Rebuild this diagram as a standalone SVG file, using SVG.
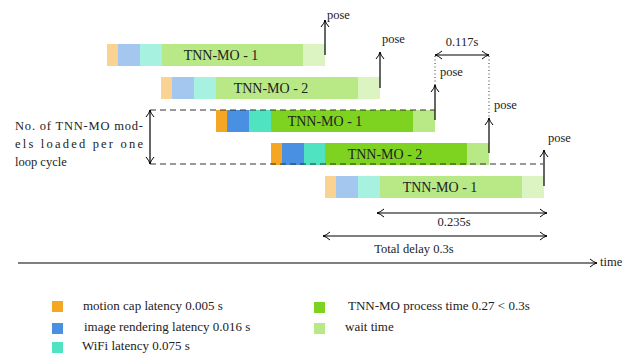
<svg xmlns="http://www.w3.org/2000/svg" width="631" height="353" viewBox="0 0 631 353">
<defs>
<marker id="ah" viewBox="-8 -5 10 10" markerWidth="10" markerHeight="10" refX="0" refY="0" orient="auto-start-reverse" markerUnits="userSpaceOnUse">
<path d="M-7,-4 Q-3,-0.5 0,0 Q-3,0.5 -7,4" fill="none" stroke="#000" stroke-width="1"/>
</marker>
</defs>
<style>
text{font-family:'Liberation Serif','DejaVu Serif',serif;fill:#222;}
.bl{font-size:14px;text-anchor:middle;}
.sm{font-size:12.5px;}
.lg{font-size:13px;}
.o{fill:#F5A623}.b{fill:#4A90E2}.c{fill:#50E3C2}.g{fill:#7ED321}.lgn{fill:#B8E986}.w{fill:#DBF4C2}
.fo{fill:#FAD291}.fb{fill:#A4C7F0}.fc{fill:#A7F1E0}
.ar{stroke:#000;stroke-width:1.2;fill:none;marker-end:url(#ah)}
.da{stroke:#000;stroke-width:1.2;fill:none;marker-start:url(#ah);marker-end:url(#ah)}
.dash{stroke:#333;stroke-width:1;stroke-dasharray:6,4;fill:none}
.dot{stroke:#333;stroke-width:1;stroke-dasharray:1,2.5;fill:none}
</style>
<g id="row1">
<rect class="fo" x="107" y="44" width="11" height="22"/>
<rect class="fb" x="118" y="44" width="22" height="22"/>
<rect class="fc" x="140" y="44" width="22" height="22"/>
<rect class="lgn" x="162" y="44" width="141" height="22"/>
<rect class="w" x="303" y="44" width="22" height="22"/>
<text class="bl" x="221" y="60" font-family="Liberation Serif, serif">TNN-MO - 1</text>
</g>
<g id="row2">
<rect class="fo" x="161" y="77" width="11" height="22"/>
<rect class="fb" x="172" y="77" width="22" height="22"/>
<rect class="fc" x="194" y="77" width="22" height="22"/>
<rect class="lgn" x="216" y="77" width="142" height="22"/>
<rect class="w" x="358" y="77" width="22" height="22"/>
<text class="bl" x="271" y="93">TNN-MO - 2</text>
</g>
<g id="row3">
<rect class="o" x="216" y="110" width="11" height="22"/>
<rect class="b" x="227" y="110" width="22" height="22"/>
<rect class="c" x="249" y="110" width="22" height="22"/>
<rect class="g" x="271" y="110" width="142" height="22"/>
<rect class="lgn" x="413" y="110" width="22" height="22"/>
<text class="bl" x="325" y="126">TNN-MO - 1</text>
</g>
<g id="row4">
<rect class="o" x="271" y="143" width="11" height="22"/>
<rect class="b" x="282" y="143" width="22" height="22"/>
<rect class="c" x="304" y="143" width="21" height="22"/>
<rect class="g" x="325" y="143" width="142" height="22"/>
<rect class="lgn" x="467" y="143" width="22" height="22"/>
<text class="bl" x="385" y="159">TNN-MO - 2</text>
</g>
<g id="row5">
<rect class="fo" x="325" y="176" width="11" height="22"/>
<rect class="fb" x="336" y="176" width="22" height="22"/>
<rect class="fc" x="358" y="176" width="22" height="22"/>
<rect class="lgn" x="380" y="176" width="142" height="22"/>
<rect class="w" x="522" y="176" width="22" height="22"/>
<text class="bl" x="440" y="192">TNN-MO - 1</text>
</g>
<g id="labels">
<text class="sm" x="327" y="19">pose</text>
<text class="sm" x="382" y="43">pose</text>
<text class="sm" x="440" y="76">pose</text>
<text class="sm" x="494" y="109">pose</text>
<text class="sm" x="548" y="142">pose</text>
<text class="sm" x="462" y="46" text-anchor="middle">0.117s</text>
<text class="sm" x="454" y="226" text-anchor="middle">0.235s</text>
<text class="sm" x="414" y="253" text-anchor="middle">Total delay 0.3s</text>
<text class="sm" x="600" y="266">time</text>
<text class="sm" x="15" y="130" textLength="128" lengthAdjust="spacing">No. of TNN-MO mod-</text>
<text class="sm" x="15" y="148" textLength="128" lengthAdjust="spacing">els loaded per one</text>
<text class="sm" x="15" y="166">loop cycle</text>
</g>
<g id="connectors">
<path class="ar" d="M325,55 V20"/>
<path class="ar" d="M380,88 V52"/>
<path class="ar" d="M435,120 V85"/>
<path class="ar" d="M489,153 V118"/>
<path class="ar" d="M544,186 V150"/>
<path class="dash" d="M150,110 H435"/>
<path class="dash" d="M150,164 H543"/>
<path class="dot" d="M435,56 V85"/>
<path class="dot" d="M489,56 V118"/>
<path class="da" d="M435,55 H489"/>
<path class="da" d="M150,110 V164"/>
<path class="da" d="M377,213 H547"/>
<path class="da" d="M323,236 H547"/>
<path class="ar" d="M18,263 H597"/>
</g>
<g id="legend">
<rect class="o" x="52" y="301" width="11" height="11"/>
<text class="lg" x="83" y="310">motion cap latency 0.005 s</text>
<rect class="b" x="52" y="323" width="11" height="11"/>
<text class="lg" x="84" y="331">image rendering latency 0.016 s</text>
<rect class="c" x="52" y="342" width="11" height="11"/>
<text class="lg" x="82" y="350">WiFi latency 0.075 s</text>
<rect class="g" x="314" y="302" width="11" height="11"/>
<text class="lg" x="348" y="310">TNN-MO process time  0.27 &lt; 0.3s</text>
<rect class="lgn" x="314" y="323" width="11" height="11"/>
<text class="lg" x="345" y="331">wait time</text>
</g>
</svg>
